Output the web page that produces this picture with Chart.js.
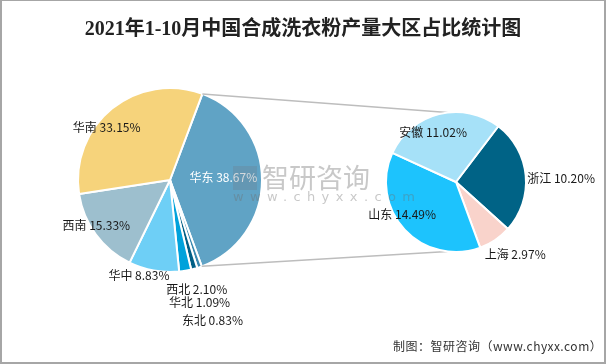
<!DOCTYPE html>
<html><head><meta charset="utf-8">
<script src="https://cdn.jsdelivr.net/npm/chart.js@4"></script>
<style>
html,body{margin:0;padding:0;background:#fff;}
#wrap{position:relative;width:606px;height:364px;overflow:hidden;background:#fff;}
canvas{position:absolute;left:0;top:0;}
#frame{position:absolute;left:0;top:0;width:606px;height:364px;box-sizing:border-box;border:2px solid #a6a6a6;border-top-width:1px;pointer-events:none;}
#title{position:absolute;left:0;top:16px;width:606px;text-align:center;font:bold 20px/24px "Liberation Serif","Noto Sans CJK SC",serif;color:#222;}
#footer{position:absolute;left:393px;top:338px;font:12px/16px "Noto Sans CJK SC",sans-serif;letter-spacing:0.5px;color:#333;white-space:nowrap;}
#wm{position:absolute;left:233px;top:160px;pointer-events:none;color:rgba(110,110,110,0.38);}
#wm .logo{position:absolute;left:0;top:6px;width:24px;height:24px;background:rgba(110,125,140,0.30);}
#wm .cn{position:absolute;left:29px;top:0;font:27px/34px "Noto Sans CJK SC",sans-serif;white-space:nowrap;}
#wm .en{position:absolute;left:0;top:28px;font:13px/18px "DejaVu Sans",sans-serif;letter-spacing:6.4px;white-space:nowrap;}
</style></head>
<body>
<div id="wrap">
  <canvas id="c1" width="606" height="364"></canvas>
  <canvas id="c2" width="606" height="364"></canvas>
  <div id="title">2021年1-10月中国合成洗衣粉产量大区占比统计图</div>
  <div id="wm"><div class="logo"></div><div class="cn">智研咨询</div><div class="en">www.chyxx.com</div></div>
  <div id="footer">制图：智研咨询（www.chyxx.com）</div>
  <div id="frame"></div>
</div>
<script>
// ---- data ----
const mainLabels = ['华东','东北','华北','西北','华中','西南','华南'];
const mainValues = [38.67, 0.83, 1.09, 2.10, 8.83, 15.33, 33.15];
const subLabels = ['浙江','上海','山东','安徽'];
const subValues = [10.20, 2.97, 14.49, 11.02];

// ---- styles ----
const mainColors = ['#60A3C5','#3A89B0','#005F86','#00A2DB','#6ECFF6','#9DBFCE','#F6D37B'];
const subColors = ['#006386','#F9D3CB','#1DC3FD','#A6E1F8'];
const mainLabelColors = ['#ffffff','#1a1a1a','#1a1a1a','#1a1a1a','#1a1a1a','#1a1a1a','#1a1a1a'];
// label layout: [radial factor, dx, dy]
const mainLabelLayout = [[0.58,0,-3],[1.1,10,45],[1.1,3,25],[1.1,10,10],[1.05,-14,0],[0.9,-7,-4],[0.85,-14,8]];
const subLabelLayout = [[1.02,34,3],[1.0,20,14],[0.6,-23,4],[0.7,-11,-2.5]];
const labelFont = '12px "Noto Sans CJK SC", sans-serif';

function labelPlugin(layout, colors){
  return {
    id:'sliceLabels',
    afterDatasetsDraw(chart){
      const ctx = chart.ctx;
      const meta = chart.getDatasetMeta(0);
      const labels = chart.data.labels;
      const vals = chart.data.datasets[0].data;
      ctx.save();
      ctx.font = labelFont;
      ctx.textAlign = 'center';
      ctx.textBaseline = 'middle';
      meta.data.forEach((arc,i)=>{
        const p = arc.getProps(['x','y','startAngle','endAngle','outerRadius'], true);
        const mid = (p.startAngle + p.endAngle)/2;
        const L = layout[i];
        const x = p.x + Math.cos(mid)*p.outerRadius*L[0] + L[1];
        const y = p.y + Math.sin(mid)*p.outerRadius*L[0] + L[2];
        ctx.fillStyle = colors[i];
        ctx.fillText(labels[i] + ' ' + vals[i].toFixed(2) + '%', x, y);
      });
      ctx.restore();
    }
  };
}

const mainRotation = 20.6;
const subRotation = 37.2;

const chart1 = new Chart(document.getElementById('c1'), {
  type:'pie',
  data:{labels:mainLabels, datasets:[{data:mainValues, backgroundColor:mainColors, borderColor:'#ffffff', borderWidth:2}]},
  options:{
    responsive:false, animation:false, events:[],
    rotation:mainRotation, radius:92,
    layout:{padding:{left:0,right:266,top:0,bottom:4}},
    plugins:{legend:{display:false}, tooltip:{enabled:false}}
  },
  plugins:[labelPlugin(mainLabelLayout, mainLabelColors)]
});

const connectorPlugin = {
  id:'connectors',
  beforeDatasetsDraw(chart){
    const src = chart1.getDatasetMeta(0).data[0].getProps(['x','y','startAngle','endAngle','outerRadius'], true);
    const dst = chart.getDatasetMeta(0).data[0].getProps(['x','y','outerRadius'], true);
    const ctx = chart.ctx;
    const off = 7*Math.PI/180;
    const a1 = -Math.PI/2 - off, a2 = Math.PI/2 + off;
    ctx.save();
    ctx.strokeStyle = '#bdbdbd';
    ctx.lineWidth = 1.5;
    ctx.beginPath();
    ctx.moveTo(src.x + Math.cos(src.startAngle)*src.outerRadius, src.y + Math.sin(src.startAngle)*src.outerRadius);
    ctx.lineTo(dst.x + Math.cos(a1)*dst.outerRadius, dst.y + Math.sin(a1)*dst.outerRadius);
    ctx.moveTo(src.x + Math.cos(src.endAngle)*src.outerRadius, src.y + Math.sin(src.endAngle)*src.outerRadius);
    ctx.lineTo(dst.x + Math.cos(a2)*dst.outerRadius, dst.y + Math.sin(a2)*dst.outerRadius);
    ctx.stroke();
    ctx.restore();
  }
};

const chart2 = new Chart(document.getElementById('c2'), {
  type:'pie',
  data:{labels:subLabels, datasets:[{data:subValues, backgroundColor:subColors, borderColor:'#ffffff', borderWidth:2}]},
  options:{
    responsive:false, animation:false, events:[],
    rotation:subRotation, radius:70,
    layout:{padding:{left:306,right:0,top:0,bottom:0}},
    plugins:{legend:{display:false}, tooltip:{enabled:false}}
  },
  plugins:[connectorPlugin, labelPlugin(subLabelLayout, ['#1a1a1a','#1a1a1a','#1a1a1a','#1a1a1a'])]
});
</script>
</body></html>
